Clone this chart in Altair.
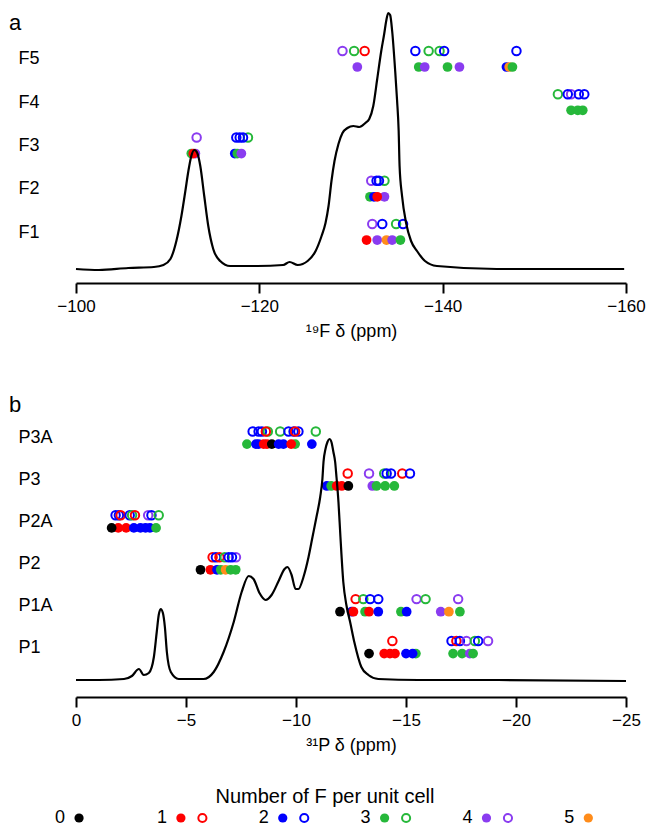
import altair as alt
import pandas as pd

FONT = "Liberation Sans"
GROUPS = [0, 1, 2, 3, 4, 5]
GROUP_COLORS = ["#000000", "#ff0000", "#0000ff", "#26b83a", "#8a3cf0", "#ff8c1a"]
LEGEND_HAS_OPEN = [False, True, True, True, True, False]
LEGEND_TITLE = "Number of F per unit cell"

# ---------------- panel a : 19F spectrum ----------------
A_PPM = [-100.0, -102.5, -105.7, -108.5, -109.54, -110.30, -110.95, -111.50, -111.93, -112.26,
         -112.58, -112.91, -113.23, -113.56, -113.99, -114.43, -114.97, -115.73, -116.81, -119.8,
         -122.6, -123.3, -124.19, -125.27, -126.14, -126.79, -127.22, -127.55, -127.87, -128.20,
         -128.63, -129.07, -129.61, -130.26, -130.91, -131.56, -131.99, -132.43, -132.86, -133.30,
         -133.62, -133.84, -134.06, -134.27, -134.49, -134.82, -135.03, -135.20, -135.30, -135.57,
         -136.01, -136.55, -137.20, -138.07, -139.37, -145.9, -151.3, -156.7, -159.8]
A_INT = [0, -1, 1, 2, 4, 10, 28, 53, 78, 98,
         113, 119, 116, 103, 73, 43, 20, 8, 3, 3,
         4, 7, 4, 8, 18, 33, 46, 63, 88, 108,
         125, 136, 141, 143, 142, 146, 150, 163, 190, 218,
         235, 248, 256, 254, 238, 198, 168, 138, 103, 73,
         46, 28, 18, 8, 3, 0, 0, 0, 0]

A_ROWS = ["F1", "F2", "F3", "F4", "F5"]
A_FILLED_GRP = [[1, 4, 5, 4, 3],
                [3, 2, 4, 1],
                [3, 4, 1, 2, 3, 4],
                [3, 3, 3],
                [4, 3, 4, 3, 4, 2, 5, 3]]
A_FILLED_PPM = [[-131.70, -132.86, -133.87, -134.49, -135.39],
                [-132.07, -132.51, -133.65, -132.86],
                [-112.58, -113.02, -112.80, -117.32, -117.60, -118.04],
                [-154.01, -154.74, -155.28],
                [-130.69, -137.39, -138.04, -140.53, -141.83, -146.96, -147.26, -147.61]]
A_OPEN_GRP = [[4, 2, 3, 2],
              [4, 3, 2, 2],
              [4, 3, 2, 2, 2],
              [3, 4, 2, 2, 2],
              [4, 3, 1, 2, 3, 3, 2, 2]]
A_OPEN_PPM = [[-132.32, -133.41, -134.92, -135.68],
              [-132.21, -133.65, -132.79, -133.05],
              [-113.16, -118.76, -117.49, -117.86, -118.22],
              [-152.57, -154.01, -153.65, -154.85, -155.45],
              [-129.07, -130.34, -131.49, -137.02, -138.47, -139.66, -140.16, -148.05]]

# ---------------- panel b : 31P spectrum ----------------
B_PPM = [0.0, -1.04, -2.18, -2.54, -2.86, -3.08, -3.31, -3.54, -3.67, -3.76,
         -3.85, -3.95, -4.04, -4.13, -4.31, -4.67, -5.80, -6.26, -6.71, -7.17,
         -7.53, -7.85, -8.07, -8.34, -8.62, -8.89, -9.21, -9.48, -9.61, -9.80,
         -9.98, -10.11, -10.34, -10.57, -10.75, -10.93, -11.10, -11.20, -11.25, -11.34,
         -11.43, -11.52, -11.61, -11.70, -11.78, -11.84, -11.93, -12.02, -12.15, -12.29,
         -12.46, -12.65, -12.97, -13.29, -13.74, -15.56, -19.18, -25.0]
B_INT = [0, 0, 1, 4, 11, 5, 7, 23, 48, 65,
         71, 67, 53, 28, 8, 1, 1, 8, 28, 58,
         88, 104, 101, 87, 80, 85, 99, 111, 113, 105,
         91, 91, 103, 123, 143, 163, 183, 201, 218, 231,
         238, 241, 238, 228, 218, 203, 178, 143, 98, 75,
         58, 38, 13, 5, 1, 0, 0, -1]

B_ROWS = ["P1", "P1A", "P2", "P2A", "P3", "P3A"]
B_FILLED_GRP = [[0, 1, 1, 1, 3, 2, 2, 3, 3, 4, 3],
                [0, 2, 1, 3, 1, 2, 3, 2, 4, 5, 3],
                [0, 1, 2, 3, 5, 3, 3],
                [1, 0, 1, 2, 2, 2, 2, 3],
                [2, 3, 1, 1, 0, 4, 3, 3, 3],
                [3, 2, 2, 1, 1, 0, 2, 2, 3, 1, 2]]
B_FILLED_PPM = [[-13.32, -14.01, -14.27, -14.50, -15.45, -15.00, -15.30, -17.14, -17.55, -17.90, -18.05],
                [-12.00, -12.53, -12.61, -13.14, -13.32, -13.74, -14.77, -15.03, -16.58, -16.95, -17.45],
                [-5.66, -6.11, -6.41, -6.58, -6.80, -7.03, -7.26],
                [-1.92, -1.62, -2.28, -2.63, -2.93, -3.16, -3.36, -3.64],
                [-11.40, -11.60, -11.85, -12.08, -12.38, -13.47, -13.66, -14.05, -14.47],
                [-7.77, -8.18, -8.30, -8.53, -8.68, -8.90, -9.21, -9.43, -9.96, -9.78, -10.72]]
B_OPEN_GRP = [[1, 2, 1, 2, 4, 3, 2, 4],
              [1, 3, 2, 2, 4, 3, 4],
              [4, 1, 2, 1, 3, 2, 2],
              [2, 2, 1, 2, 3, 1, 4, 2, 3],
              [1, 4, 3, 2, 2, 1, 2],
              [2, 2, 2, 3, 1, 3, 2, 2, 2, 1, 3]]
B_OPEN_PPM = [[-14.38, -17.07, -17.29, -17.45, -17.75, -18.13, -18.28, -18.73],
              [-12.71, -13.06, -13.37, -13.74, -15.48, -15.89, -17.37],
              [-7.27, -6.21, -6.36, -6.52, -6.76, -6.94, -7.09],
              [-1.80, -1.95, -2.03, -2.44, -2.55, -2.68, -3.28, -3.43, -3.76],
              [-12.35, -13.32, -14.01, -14.12, -14.32, -14.83, -15.18],
              [-8.03, -8.30, -8.45, -8.72, -8.63, -9.28, -9.66, -9.89, -10.11, -9.96, -10.90]]

W = 550
COLOR = alt.Color("grp:N", scale=alt.Scale(domain=GROUPS, range=GROUP_COLORS), legend=None)


def points_df(rows, grps, ppms, off, kind):
    recs = []
    for i, name in enumerate(rows):
        for g, p in zip(grps[i], ppms[i]):
            recs.append({"row": name, "grp": g, "ppm": p, "ypos": i + 1 + off, "kind": kind})
    return pd.DataFrame(recs)


def panel(spec_ppm, spec_int, rows, fg, fp, og, op, xdom, xticks, xtitle,
          ydom_pts, ydom_spec, off, height, letter, letter_y):
    xscale = alt.Scale(domain=xdom, reverse=True, nice=False, zero=False)
    xaxis = alt.Axis(values=xticks, title=xtitle, labelFlush=False)
    label_expr = "[" + ",".join("'%s'" % r for r in rows) + "][datum.value - 1]"
    yaxis = alt.Axis(values=list(range(1, len(rows) + 1)), labelExpr=label_expr,
                     domain=False, ticks=False, title=None, labelAlign="left",
                     labelPadding=58, labelFontSize=18, labelBaseline="middle")
    yscale = alt.Scale(domain=ydom_pts, nice=False, zero=False)

    pts = pd.concat([points_df(rows, fg, fp, -off, "filled"),
                     points_df(rows, og, op, off, "open")], ignore_index=True)
    base = alt.Chart(pts).encode(x=alt.X("ppm:Q", scale=xscale, axis=xaxis),
                                 y=alt.Y("ypos:Q", scale=yscale, axis=yaxis),
                                 color=COLOR)
    filled = base.transform_filter("datum.kind == 'filled'").mark_point(
        filled=True, shape="circle", size=95, opacity=1)
    opened = base.transform_filter("datum.kind == 'open'").mark_point(
        filled=False, shape="circle", size=72, opacity=1, strokeWidth=2)
    points = alt.layer(filled, opened)

    spec = alt.Chart(pd.DataFrame({"ppm": spec_ppm, "intensity": spec_int})).mark_line(
        color="black", strokeWidth=2.2, interpolate="monotone"
    ).encode(x=alt.X("ppm:Q", scale=xscale, axis=xaxis),
             y=alt.Y("intensity:Q", scale=alt.Scale(domain=ydom_spec, nice=False, zero=False), axis=None))
    lab = alt.Chart(alt.Data(values=[{"t": letter}])).mark_text(
        fontSize=22, align="left", baseline="middle", font=FONT
    ).encode(x=alt.value(-67), y=alt.value(letter_y), text="t:N")
    return alt.layer(points, spec, lab).resolve_scale(y="independent").properties(
        width=W, height=height)


pa = panel(A_PPM, A_INT, A_ROWS, A_FILLED_GRP, A_FILLED_PPM, A_OPEN_GRP, A_OPEN_PPM,
           [-160, -100], [-100, -120, -140, -160], "\u00b9\u2079F \u03b4 (ppm)",
           [-0.179, 6.156], [-14, 260], 0.185, 274, "a", 14)
pb = panel(B_PPM, B_INT, B_ROWS, B_FILLED_GRP, B_FILLED_PPM, B_OPEN_GRP, B_OPEN_PPM,
           [-25, 0], [0, -5, -10, -15, -20, -25], "\u00b3\u00b9P \u03b4 (ppm)",
           [-0.186, 6.616], [-17, 268], 0.15, 285, "b", -7)

# ---------------- legend ----------------
leg_df = pd.DataFrame({"grp": GROUPS, "label": [str(g) for g in GROUPS],
                       "has_open": LEGEND_HAS_OPEN})
leg_x = alt.Scale(domain=[-0.03, 5.37], nice=False, zero=False)
leg_y = alt.value(33)
nums = alt.Chart(leg_df).mark_text(fontSize=18, align="right", baseline="middle", dx=-14, font=FONT).encode(
    x=alt.X("grp:Q", scale=leg_x, axis=None), y=leg_y, text="label:N")
ldots = alt.Chart(leg_df).mark_point(filled=True, shape="circle", size=85, opacity=1).encode(
    x=alt.X("grp:Q", scale=leg_x, axis=None), y=leg_y, color=COLOR)
lopen = alt.Chart(leg_df).transform_filter("datum.has_open").transform_calculate(
    xo="datum.grp + 0.211").mark_point(filled=False, shape="circle", size=66, opacity=1, strokeWidth=2).encode(
    x=alt.X("xo:Q", scale=leg_x, axis=None), y=leg_y, color=COLOR)
ltitle = alt.Chart(alt.Data(values=[{"t": LEGEND_TITLE}])).mark_text(
    fontSize=20, align="center", baseline="middle", font=FONT).encode(
    x=alt.value(249), y=alt.value(12), text="t:N")
guide = alt.Chart(alt.Data(values=[{}])).mark_rule(strokeOpacity=0).encode(
    x=alt.value(-67), y=alt.value(0), y2=alt.value(1))
legend = alt.layer(guide, ltitle, nums, ldots, lopen).properties(width=W, height=36)

chart = alt.vconcat(alt.vconcat(pa, pb, spacing=54), legend, spacing=31).properties(
    padding={"left": 1, "top": 0, "right": 0, "bottom": 0}
).configure_view(stroke=None).configure_axis(
    domainColor="black", tickColor="black", domainWidth=2, tickWidth=2, tickSize=10,
    labelColor="black", titleColor="black", labelFont=FONT, titleFont=FONT,
    labelFontSize=17, titleFontSize=18, titleFontWeight="normal", grid=False,
    labelPadding=5, titlePadding=8
)

chart.save("out.html", embed_options={"renderer": "svg", "actions": False})
